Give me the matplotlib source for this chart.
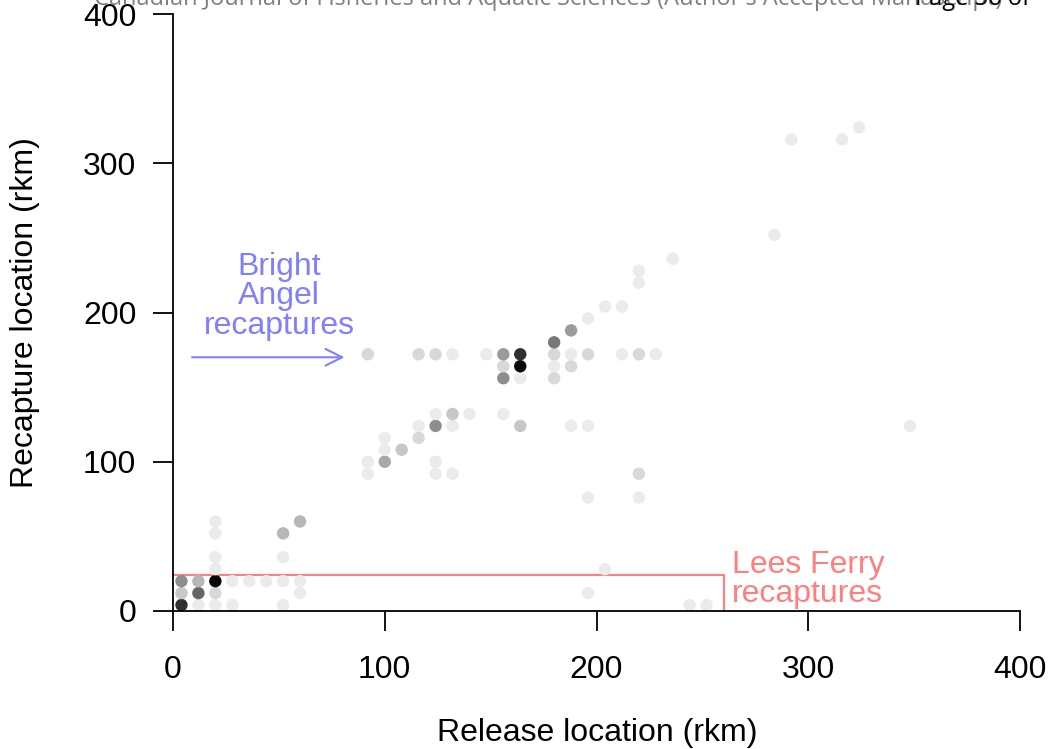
import numpy as np
import matplotlib
matplotlib.use("Agg")
import matplotlib.pyplot as plt

plt.rcParams['font.family'] = ['Liberation Sans', 'DejaVu Sans']

# binned release / recapture locations (rkm) and number of fish in each bin
release = [4, 12, 20, 28, 52, 244, 252,
           4, 12, 20, 60, 196,
           4, 12, 20, 28, 36, 44, 52, 60,
           20, 204,
           20, 52,
           20, 52,
           20, 60,
           196, 220,
           92, 124, 132, 220,
           92, 100, 124,
           100, 108,
           100, 116,
           116, 124, 132, 164, 188, 196, 348,
           124, 132, 140, 156,
           156, 164, 180,
           156, 164, 180, 188,
           92, 116, 124, 132, 148, 156, 164, 180, 188, 196, 212, 220, 228,
           180, 188, 196, 204, 212, 220, 220, 236, 284, 292, 316, 324]
recapture = [4, 4, 4, 4, 4, 4, 4,
             12, 12, 12, 12, 12,
             20, 20, 20, 20, 20, 20, 20, 20,
             28, 28,
             36, 36,
             52, 52,
             60, 60,
             76, 76,
             92, 92, 92, 92,
             100, 100, 100,
             108, 108,
             116, 116,
             124, 124, 124, 124, 124, 124, 124,
             132, 132, 132, 132,
             156, 156, 156,
             164, 164, 164, 164,
             172, 172, 172, 172, 172, 172, 172, 172, 172, 172, 172, 172, 172,
             180, 188, 196, 204, 204, 220, 228, 236, 252, 316, 316, 324]
count = [20, 1, 1, 1, 1, 1, 1,
         3, 11, 2, 1, 1,
         7, 4, 40, 1, 1, 1, 1, 1,
         1, 1,
         1, 1,
         1, 4,
         1, 4,
         1, 1,
         1, 1, 1, 2,
         1, 5, 1,
         1, 3,
         1, 2,
         1, 7, 1, 3, 1, 1, 1,
         1, 3, 1, 1,
         7, 1, 2,
         2, 40, 1, 2,
         2, 2, 2, 1, 1, 6, 20, 2, 1, 2, 1, 2, 1,
         9, 6, 1, 1, 1, 1, 1, 1, 1, 1, 1, 1]

ticks = [0, 100, 200, 300, 400]
lees_ferry_box = (260, 24)

fig = plt.figure(figsize=(10.49, 7.49), dpi=100)
ax = fig.add_axes([173 / 1049, 138 / 749, 847 / 1049, 597 / 749])

# darker = more overlapping fish (each fish ~ 8% black)
shade = 0.92 ** np.array(count)
colors = [(g, g, g) for g in shade]
ax.scatter(release, recapture, s=80, c=colors, edgecolors='none', clip_on=False, zorder=2)

ax.set_xlim(0, 400)
ax.set_ylim(0, 400)
ax.set_xticks(ticks)
ax.set_yticks(ticks)
for side in ['top', 'right']:
    ax.spines[side].set_visible(False)
for side in ['left', 'bottom']:
    ax.spines[side].set_linewidth(1.3)
ax.tick_params(direction='out', length=14.4, width=1.3, labelsize=23)
ax.tick_params(axis='x', pad=17)
ax.tick_params(axis='y', pad=12)

fig.text(597 / 1049, 1 - 733 / 749, 'Release location (rkm)', ha='center', va='center', fontsize=23)
fig.text(25 / 1049, 1 - 313 / 749, 'Recapture location (rkm)', ha='center', va='center',
         rotation=90, fontsize=23)

# Lees Ferry box and label
red = '#ff7f7f'
w, h = lees_ferry_box
ax.plot([0, w, w], [h, h, 0], color=red, lw=1.5, clip_on=False, zorder=1)
ax.text(264, 21, 'Lees Ferry\nrecaptures', color=red, fontsize=23, ha='left', va='center',
        linespacing=0.95)

# Bright Angel arrow and label
blue = '#7f7fff'
ax.annotate('', xy=(81, 170), xytext=(9, 170),
            arrowprops=dict(arrowstyle='->,head_length=0.6,head_width=0.3', color=blue,
                            lw=1.5, mutation_scale=20, shrinkA=0, shrinkB=0))
ax.text(50, 211, 'Bright\nAngel\nrecaptures', color=blue, fontsize=23, ha='center', va='center',
        linespacing=0.98)

# journal header, cut off at the top edge
fig.text(548 / 1049, 1 + 1 / 749, "Canadian Journal of Fisheries and Aquatic Sciences (Author's Accepted Manuscript)",
         ha='center', va='center', fontsize=17, color='#808080', family=['Open Sans', 'DejaVu Sans'])
fig.text(1030 / 1049, 1 + 1 / 749, 'Page 36 of', ha='right', va='center', fontsize=17,
         color='black', family=['Open Sans', 'DejaVu Sans'])

fig.savefig('out.png', dpi=100)
